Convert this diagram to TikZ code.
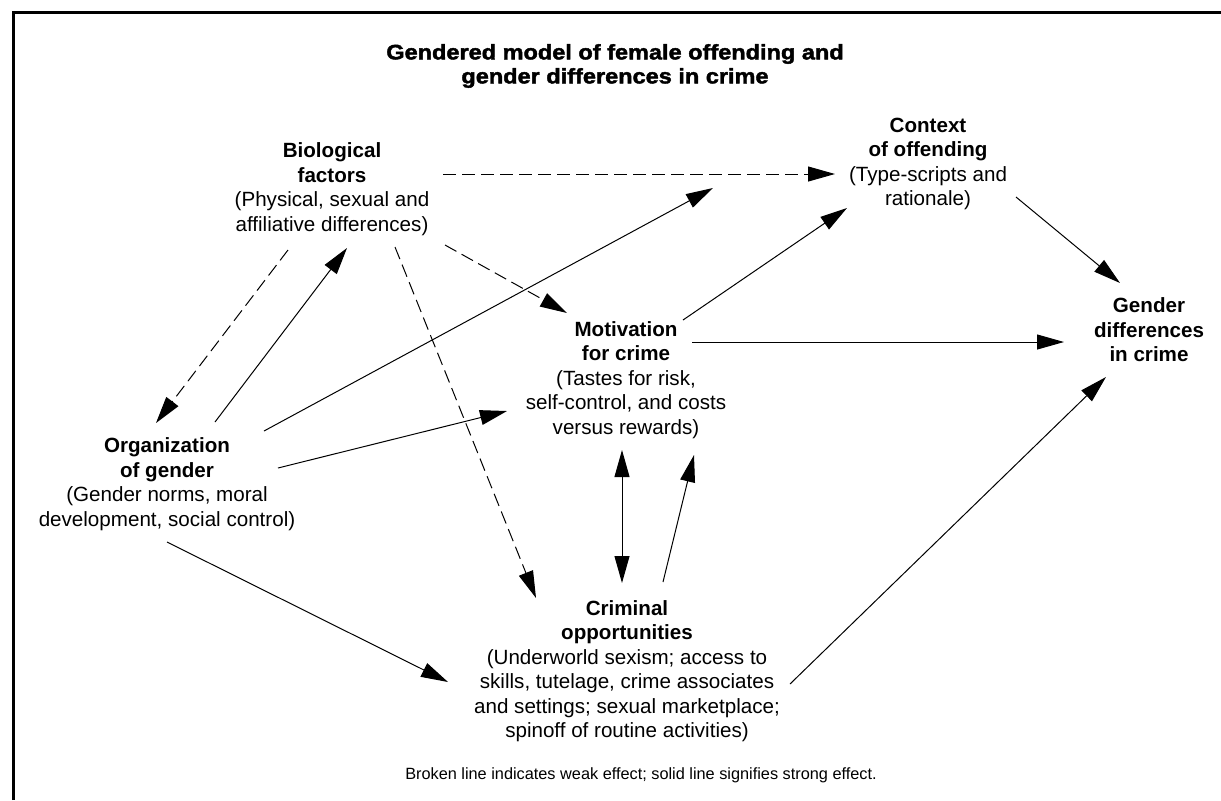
\documentclass[tikz,border=0pt]{standalone}
\usepackage{fontspec}
\setmainfont{Liberation Sans}
\newfontfamily\titrefont[FakeStretch=1.12,FakeBold=2]{Liberation Sans}
\usetikzlibrary{arrows.meta}
\begin{document}
\begin{tikzpicture}[x=0.5pt,y=-0.5pt,
  txt/.style={align=center,inner sep=0pt,font=\fontsize{10.3}{12.25}\selectfont},
  strong/.style={->,line width=0.5pt},
  weak/.style={->,line width=0.5pt,dash pattern=on 6.5pt off 3pt},
  >={Triangle[length=13.5pt,width=7.5pt]}]
\useasboundingbox (0,0) rectangle (1221,800);
%cadre
\draw[line width=1.5pt] (13,800) -- (13,12) -- (1221,12);
%titre
\node[txt,font=\titrefont\bfseries\fontsize{10.5}{12}\selectfont] (titre) at (615,66) {Gendered model of female offending and\\gender differences in crime};
%noeuds
\node[txt] (bio) at (332,189) {\textbf{Biological}\\\textbf{factors}\\(Physical, sexual and\\affiliative differences)};
\node[txt] (ctx) at (928,164) {\textbf{Context}\\\textbf{of offending}\\(Type-scripts and\\rationale)};
\node[txt] (mot) at (626,380) {\textbf{Motivation}\\\textbf{for crime}\\(Tastes for risk,\\self-control, and costs\\versus rewards)};
\node[txt] (gen) at (1149,330) {\textbf{Gender}\\\textbf{differences}\\\textbf{in crime}};
\node[txt] (org) at (167,484) {\textbf{Organization}\\\textbf{of gender}\\(Gender norms, moral\\development, social control)};
\node[txt] (crim) at (627,671) {\textbf{Criminal}\\\textbf{opportunities}\\(Underworld sexism; access to\\skills, tutelage, crime associates\\and settings; sexual marketplace;\\spinoff of routine activities)};
\node[txt,font=\fontsize{8.15}{10}\selectfont] (note) at (641,775) {Broken line indicates weak effect; solid line signifies strong effect.};
%fleches en tirets (effet faible)
\draw[weak] ([shift={(111,-15)}]bio.center) -- ([shift={(-93,10)}]ctx.center);
\draw[weak] ([shift={(-44,61)}]bio.center) -- ([shift={(-11,-61)}]org.center);
\draw[weak] ([shift={(63,58)}]bio.center) -- ([shift={(-91,-73)}]crim.center);
\draw[weak] ([shift={(113,56)}]bio.center) -- ([shift={(-59,-67)}]mot.center);
%fleches pleines (effet fort)
\draw[strong] ([shift={(48,-62)}]org.center) -- ([shift={(15,59)}]bio.center);
\draw[strong] ([shift={(97,-53)}]org.center) -- ([shift={(-215,24)}]ctx.center);
\draw[strong] ([shift={(111,-16)}]org.center) -- ([shift={(-119,31)}]mot.center);
\draw[strong] ([shift={(0,58)}]org.center) -- ([shift={(-179,11)}]crim.center);
\draw[strong,<->] ([shift={(-4,70)}]mot.center) -- ([shift={(-5,-88)}]crim.center);
\draw[strong] ([shift={(36,-89)}]crim.center) -- ([shift={(68,75)}]mot.center);
\draw[strong] ([shift={(57,-60)}]mot.center) -- ([shift={(-81,44)}]ctx.center);
\draw[strong] ([shift={(66,-38)}]mot.center) -- ([shift={(-85,12)}]gen.center);
\draw[strong] ([shift={(88,33)}]ctx.center) -- ([shift={(-29,-47)}]gen.center);
\draw[strong] ([shift={(163,13)}]crim.center) -- ([shift={(-43,47)}]gen.center);
\end{tikzpicture}
\end{document}
